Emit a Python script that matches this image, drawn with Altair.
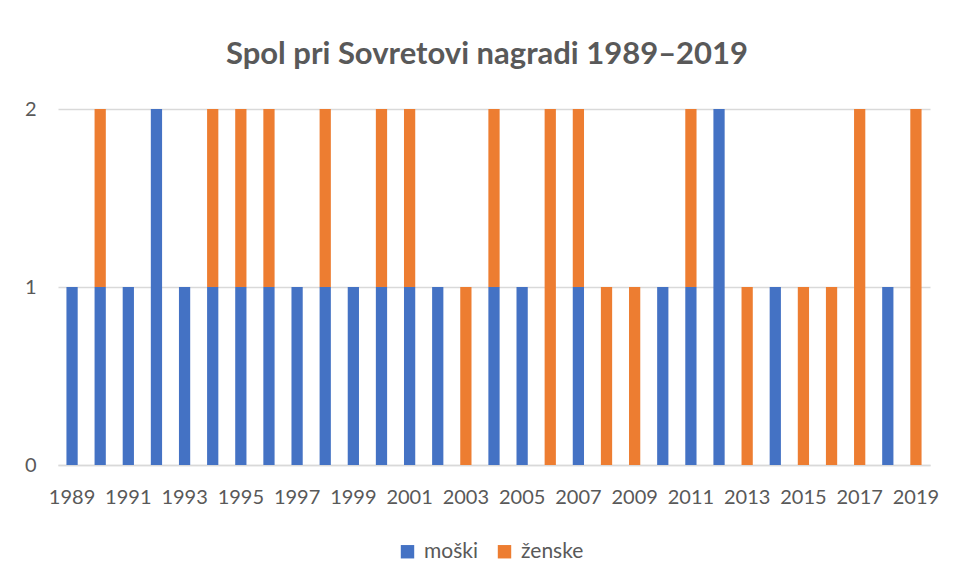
import altair as alt
import pandas as pd

years = list(range(1989, 2020))
moski = [1, 1, 1, 2, 1, 1, 1, 1, 1, 1, 1, 1, 1, 1, 0, 1, 1, 0, 1, 0, 0, 1, 1, 2, 0, 1, 0, 0, 0, 1, 0]
zenske = [0, 1, 0, 0, 0, 1, 1, 1, 0, 1, 0, 1, 1, 0, 1, 1, 0, 2, 1, 1, 1, 0, 1, 0, 1, 0, 1, 1, 2, 0, 2]
series = ["moški", "ženske"]
colors = ["#4472C4", "#ED7D31"]
label_years = [str(y) for y in years if y % 2 == 1]
y_ticks = [0, 1, 2]

rows = []
for y, m, z in zip(years, moski, zenske):
    rows.append({"leto": str(y), "spol": series[0], "n": m, "o": 0})
    rows.append({"leto": str(y), "spol": series[1], "n": z, "o": 1})
df = pd.DataFrame(rows)

FONT = "Lato"
TXT = "#595959"

chart = alt.Chart(df).mark_bar().encode(
    x=alt.X("leto:N", title=None, sort=[str(y) for y in years],
            scale=alt.Scale(paddingInner=0.6, paddingOuter=0.3),
            axis=alt.Axis(values=label_years, labelAngle=0, ticks=False,
                          domainColor="#D9D9D9", domainWidth=1.3,
                          labelFontSize=20, labelColor=TXT, labelFont=FONT,
                          labelPadding=22, grid=False)),
    y=alt.Y("n:Q", title=None, stack="zero",
            scale=alt.Scale(domain=[0, 2], nice=False),
            axis=alt.Axis(values=y_ticks, format=".0f", ticks=False, domain=False,
                          labelOverlap=False, labelFlush=False,
                          gridColor="#D9D9D9", gridWidth=1.3,
                          labelFontSize=20, labelColor=TXT, labelFont=FONT,
                          labelPadding=22)),
    color=alt.Color("spol:N", title=None,
                    scale=alt.Scale(domain=series, range=colors),
                    legend=alt.Legend(orient="none", legendX=339, legendY=432,
                                      direction="horizontal", symbolType="square",
                                      symbolSize=180, symbolStrokeWidth=0,
                                      labelFontSize=21, labelColor=TXT, labelFont=FONT,
                                      columnPadding=16, labelOffset=6)),
    order=alt.Order("o:Q"),
).properties(
    width=872,
    height=356,
    background="white",
    padding={"left": 50, "top": 101, "right": 17, "bottom": 108},
    autosize=alt.AutoSizeParams(type="none"),
    title=alt.TitleParams("Spol pri Sovretovi nagradi 1989–2019", fontSize=31,
                          font=FONT, fontWeight="bold", color=TXT,
                          anchor="middle", offset=28, dx=-7),
).configure_view(stroke=None)

chart.save("out.html", embed_options={"renderer": "svg", "actions": False})
